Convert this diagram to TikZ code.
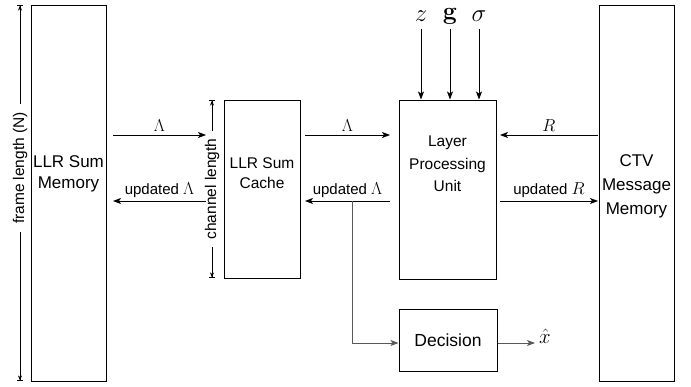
\documentclass[tikz,border=0pt]{standalone}
\usepackage[no-math]{fontspec}
\setmainfont{Liberation Sans}
\usetikzlibrary{arrows.meta}
\begin{document}
\begin{tikzpicture}[x=1pt,y=-1pt,
  box/.style={draw,line width=1pt,inner sep=0pt},
  btxt/.style={align=center,inner sep=0pt},
  arr/.style={-{Stealth[length=8pt,width=6pt,inset=2pt]},line width=0.8pt},
  garr/.style={arr,draw=black!65},
  lbl/.style={font=\fontsize{15}{17}\selectfont,inner sep=1pt},
  mlbl/.style={font=\fontsize{17}{19}\selectfont,inner sep=1pt},
  dimline/.style={{Bar[width=6pt]Stealth[length=5pt,width=4pt]}-{Stealth[length=5pt,width=4pt]Bar[width=6pt]},line width=0.6pt},
  dimtxt/.style={rotate=90,fill=white,inner xsep=8pt,inner ysep=0pt,font=\fontsize{15.5}{17}\selectfont},
  sym/.style={font=\fontsize{23}{25}\selectfont,inner sep=0pt}]
\useasboundingbox (0,0) rectangle (691,386);
% boxes
\node[box,minimum width=75pt,minimum height=376pt] (mem) at (68.5,193) {};
\node[btxt,font=\fontsize{17}{21}\selectfont] (memt) at (68.5,174) {LLR Sum\\Memory};
\node[box,minimum width=76pt,minimum height=178pt] (cache) at (262,189) {};
\node[btxt,font=\fontsize{15.5}{20}\selectfont] (cachet) at (262,173) {LLR Sum\\Cache};
\node[box,minimum width=97pt,minimum height=179pt] (lpu) at (447.5,189.5) {};
\node[btxt,font=\fontsize{15.5}{22.5}\selectfont] (lput) at (447.5,164) {Layer\\Processing\\Unit};
\node[box,minimum width=75pt,minimum height=376pt] (ctv) at (636.5,193) {};
\node[btxt,font=\fontsize{17}{24}\selectfont] (ctvt) at (636.5,186) {CTV\\Message\\Memory};
\node[box,minimum width=98pt,minimum height=62pt,font=\fontsize{17.5}{20}\selectfont] (dec) at (448,340) {Decision};
% dimension lines
\coordinate (ft) at (20,5);
\coordinate (fb) at (20,381);
\draw[dimline] (ft) -- (fb);
\node[dimtxt] (fl) at (20,168) {frame length (N)};
\coordinate (ct) at (212,100);
\coordinate (cb) at (212,278);
\draw[dimline] (ct) -- (cb);
\node[dimtxt] (cl) at (212,189) {channel length};
% horizontal arrows
\coordinate (a1s) at (113,135); \coordinate (a1e) at (206,135);
\draw[arr] (a1s) -- node[mlbl,above=2pt] {$\Lambda$} (a1e);
\coordinate (a2s) at (206,201); \coordinate (a2e) at (113,201);
\draw[arr] (a2s) -- node[lbl,above=2pt] {updated \fontsize{17}{19}\selectfont$\Lambda$} (a2e);
\coordinate (a3s) at (305,135); \coordinate (a3e) at (390,135);
\draw[arr] (a3s) -- node[mlbl,above=2pt] {$\Lambda$} (a3e);
\coordinate (a4s) at (390,201); \coordinate (a4e) at (305,201);
\draw[arr] (a4s) -- node[lbl,above=2pt] {updated \fontsize{17}{19}\selectfont$\Lambda$} (a4e);
\coordinate (a5s) at (598,135); \coordinate (a5e) at (500,135);
\draw[arr] (a5s) -- node[mlbl,above=2pt] {$R$} (a5e);
\coordinate (a6s) at (500,201); \coordinate (a6e) at (598,201);
\draw[arr] (a6s) -- node[lbl,above=2pt] {updated \fontsize{17}{19}\selectfont$R$} (a6e);
% inputs
\node[sym] (z) at (421,16) {$z$};
\node[sym] (g) at (450,16) {$\mathbf{g}$};
\node[sym] (s) at (479,16) {$\sigma$};
\coordinate (zt) at (421,29); \coordinate (gt) at (450,29); \coordinate (st) at (479,29);
\draw[arr] (zt) -- (zt |- lpu.north);
\draw[arr] (gt) -- (gt |- lpu.north);
\draw[arr] (st) -- (st |- lpu.north);
% decision path
\coordinate (br) at (352,201);
\coordinate (bc) at (352,343);
\draw[garr] (br) -- (bc) -- (bc -| dec.west);
\node[sym,font=\fontsize{21}{23}\selectfont] (xh) at (545,336) {$\hat{x}$};
\coordinate (xe) at (535,343);
\draw[garr] (dec.east |- xe) -- (xe);
\end{tikzpicture}
\end{document}
